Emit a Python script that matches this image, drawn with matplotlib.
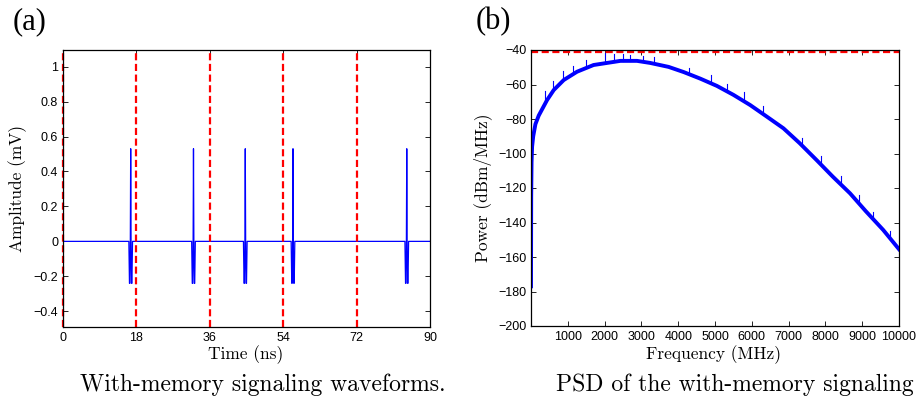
import matplotlib
matplotlib.use('Agg')
import matplotlib.pyplot as plt
import numpy as np
from matplotlib.ticker import FuncFormatter

# (a) with-memory waveform: pulse centres (ns) and one pulse shape
pulse_times = [16.6, 32.0, 44.7, 56.4, 84.3]
pulse_offsets = [-0.45, -0.3, -0.2, -0.1, 0.0, 0.1, 0.2, 0.3, 0.45]
pulse_values = [0.0, -0.24, -0.24, -0.05, 0.53, -0.05, -0.24, -0.24, 0.0]
symbol_bounds = [0, 18, 36, 54, 72]

# (b) PSD
freq_mhz = [0, 5, 15, 30, 60, 120, 210, 437, 618, 890, 1250, 1700, 2430, 2880,
            3240, 3740, 4150, 4600, 5050, 5500, 5955, 6400, 6860, 7300, 7760,
            8200, 8670, 9100, 9570, 10000]
psd_dbm = [-177, -125, -105, -96, -90, -83, -78, -69, -63.2, -57.4, -52.6, -48.7,
           -46.3, -46.3, -47.5, -49.8, -52.8, -56.6, -60.8, -66, -71.9, -78.5,
           -85.4, -94, -103.8, -113.4, -123.1, -133.5, -144.3, -155.5]
# short upward noise spikes sticking out of the band
spike_freq = [390, 600, 880, 1150, 1500, 2020, 2250, 2490, 2700, 3050, 3350, 4300,
              4880, 5330, 5780, 6300, 7370, 7890, 8420, 8900, 9300, 9750]
spike_top = [-64, -58, -52, -49, -46, -42, -42.5, -42.5, -43, -43.5, -44, -50.5,
             -54.5, -59.5, -64.5, -72.5, -91, -101.5, -113, -124, -134, -145]
fcc_limit = -41.3

serif = 'cmr10'

def fmt(v, pos):
    return ('%g' % v).replace('-', '\u2212')

plt.rcParams['font.family'] = 'Liberation Sans'
plt.rcParams['axes.unicode_minus'] = True

fig = plt.figure(figsize=(9.18, 4.01), dpi=100)
ax1 = fig.add_axes([63/918, 74/401, 367/918, 277/401])
ax2 = fig.add_axes([531/918, 75/401, 368/918, 276/401])

# waveform
t = [0.0]
y = [0.0]
for c in pulse_times:
    for o, v in zip(pulse_offsets, pulse_values):
        t.append(c + o)
        y.append(v)
t.append(90.0)
y.append(0.0)
ax1.plot(t, y, color='#0000ff', lw=0.9)
for b in symbol_bounds:
    ax1.axvline(b, color='#ff0000', lw=1.6, dashes=(3.2, 1.6), clip_on=False)
ax1.set_xlim(0, 90)
ax1.set_ylim(-0.49, 1.095)
ax1.set_xticks([0, 18, 36, 54, 72, 90])
ax1.set_yticks(np.arange(-0.4, 1.01, 0.2))
ax1.yaxis.set_major_formatter(FuncFormatter(lambda v, p: fmt(round(v, 1), p)))

# psd
ax2.plot(freq_mhz, psd_dbm, color='#0000ff', lw=2.8, solid_joinstyle='round')
for f, top, in zip(spike_freq, spike_top):
    base = np.interp(f, freq_mhz, psd_dbm)
    ax2.plot([f, f], [base, top], color='#0000ff', lw=0.8)
ax2.axhline(fcc_limit, color='#ff0000', lw=1.6, dashes=(3.2, 1.6))
ax2.set_xlim(0, 10000)
ax2.set_ylim(-200, -40)
ax2.set_xticks(range(1000, 10001, 1000))
ax2.set_yticks(range(-200, -39, 20))
ax2.yaxis.set_major_formatter(FuncFormatter(fmt))

for ax in (ax1, ax2):
    ax.tick_params(direction='in', length=3.5, width=0.6, top=True, right=True,
                   labelsize=9, pad=3.5)
    for s in ax.spines.values():
        s.set_linewidth(0.9)

fig.text(18/918, 1 - 188/401, 'Amplitude (mV)', family=serif, fontsize=12.5,
         rotation=90, ha='center', va='center')
fig.text(483/918, 1 - 188/401, 'Power (dBm/MHz)', family=serif, fontsize=12.5,
         rotation=90, ha='center', va='center')
fig.text(246/918, 1 - 355/401, 'Time (ns)', family=serif, fontsize=12.5,
         ha='center', va='center')
fig.text(714/918, 1 - 355/401, 'Frequency (MHz)', family=serif, fontsize=12.5,
         ha='center', va='center')
fig.text(263/918, 1 - 385/401, 'With-memory signaling waveforms.', family=serif,
         fontsize=17, ha='center', va='center')
fig.text(735/918, 1 - 385/401, 'PSD of the with-memory signaling', family=serif,
         fontsize=17, ha='center', va='center')
fig.text(30/918, 1 - 22/401, '(a)', family='Liberation Serif', fontsize=22,
         ha='center', va='center')
fig.text(493/918, 1 - 22/401, '(b)', family='Liberation Serif', fontsize=22,
         ha='center', va='center')

fig.savefig('out.png', dpi=100)
